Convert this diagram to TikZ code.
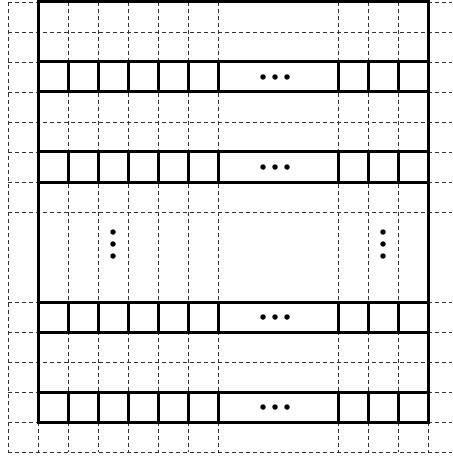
\documentclass[tikz,border=0pt]{standalone}
\begin{document}
\begin{tikzpicture}[x=1pt,y=-1pt,
  gridline/.style={line width=0.9pt,dash pattern=on 4pt off 3pt,black!80},
  thickline/.style={line width=3pt,line cap=rect},
  bandline/.style={line width=3pt},
  dotmark/.style={circle,fill=black,inner sep=0pt,minimum size=5.5pt}]
\useasboundingbox (0,0) rectangle (452,457);
% dashed grid
\foreach \x in {8,38,68,98,128,158,188,218,338,368,398,428}
  \draw[gridline] (\x,2) -- (\x,452);
\foreach \y in {2,32,62,92,122,152,182,212,302,332,362,392,422,452}
  \draw[gridline] (8,\y) -- (452,\y);
% thick outline and bands
\draw[thickline] (38,2) rectangle (428,422);
\foreach \y in {62,92,152,182,302,332,392,422}
  \draw[thickline] (38,\y) -- (428,\y);
\foreach \ya/\yb in {62/92,152/182,302/332,392/422}
  \foreach \x in {68,98,128,158,188,218,338,368,398}
    \draw[bandline] (\x,\ya) -- (\x,\yb);
% horizontal ellipses
\foreach \y [count=\i] in {77,167,317,407}
  \foreach \x [count=\j] in {263,275,287}
    \node[dotmark] (h\i-\j) at (\x,\y) {};
% vertical ellipses
\foreach \x [count=\i] in {113,383}
  \foreach \y [count=\j] in {232,244,256}
    \node[dotmark] (v\i-\j) at (\x,\y) {};
\end{tikzpicture}
\end{document}
